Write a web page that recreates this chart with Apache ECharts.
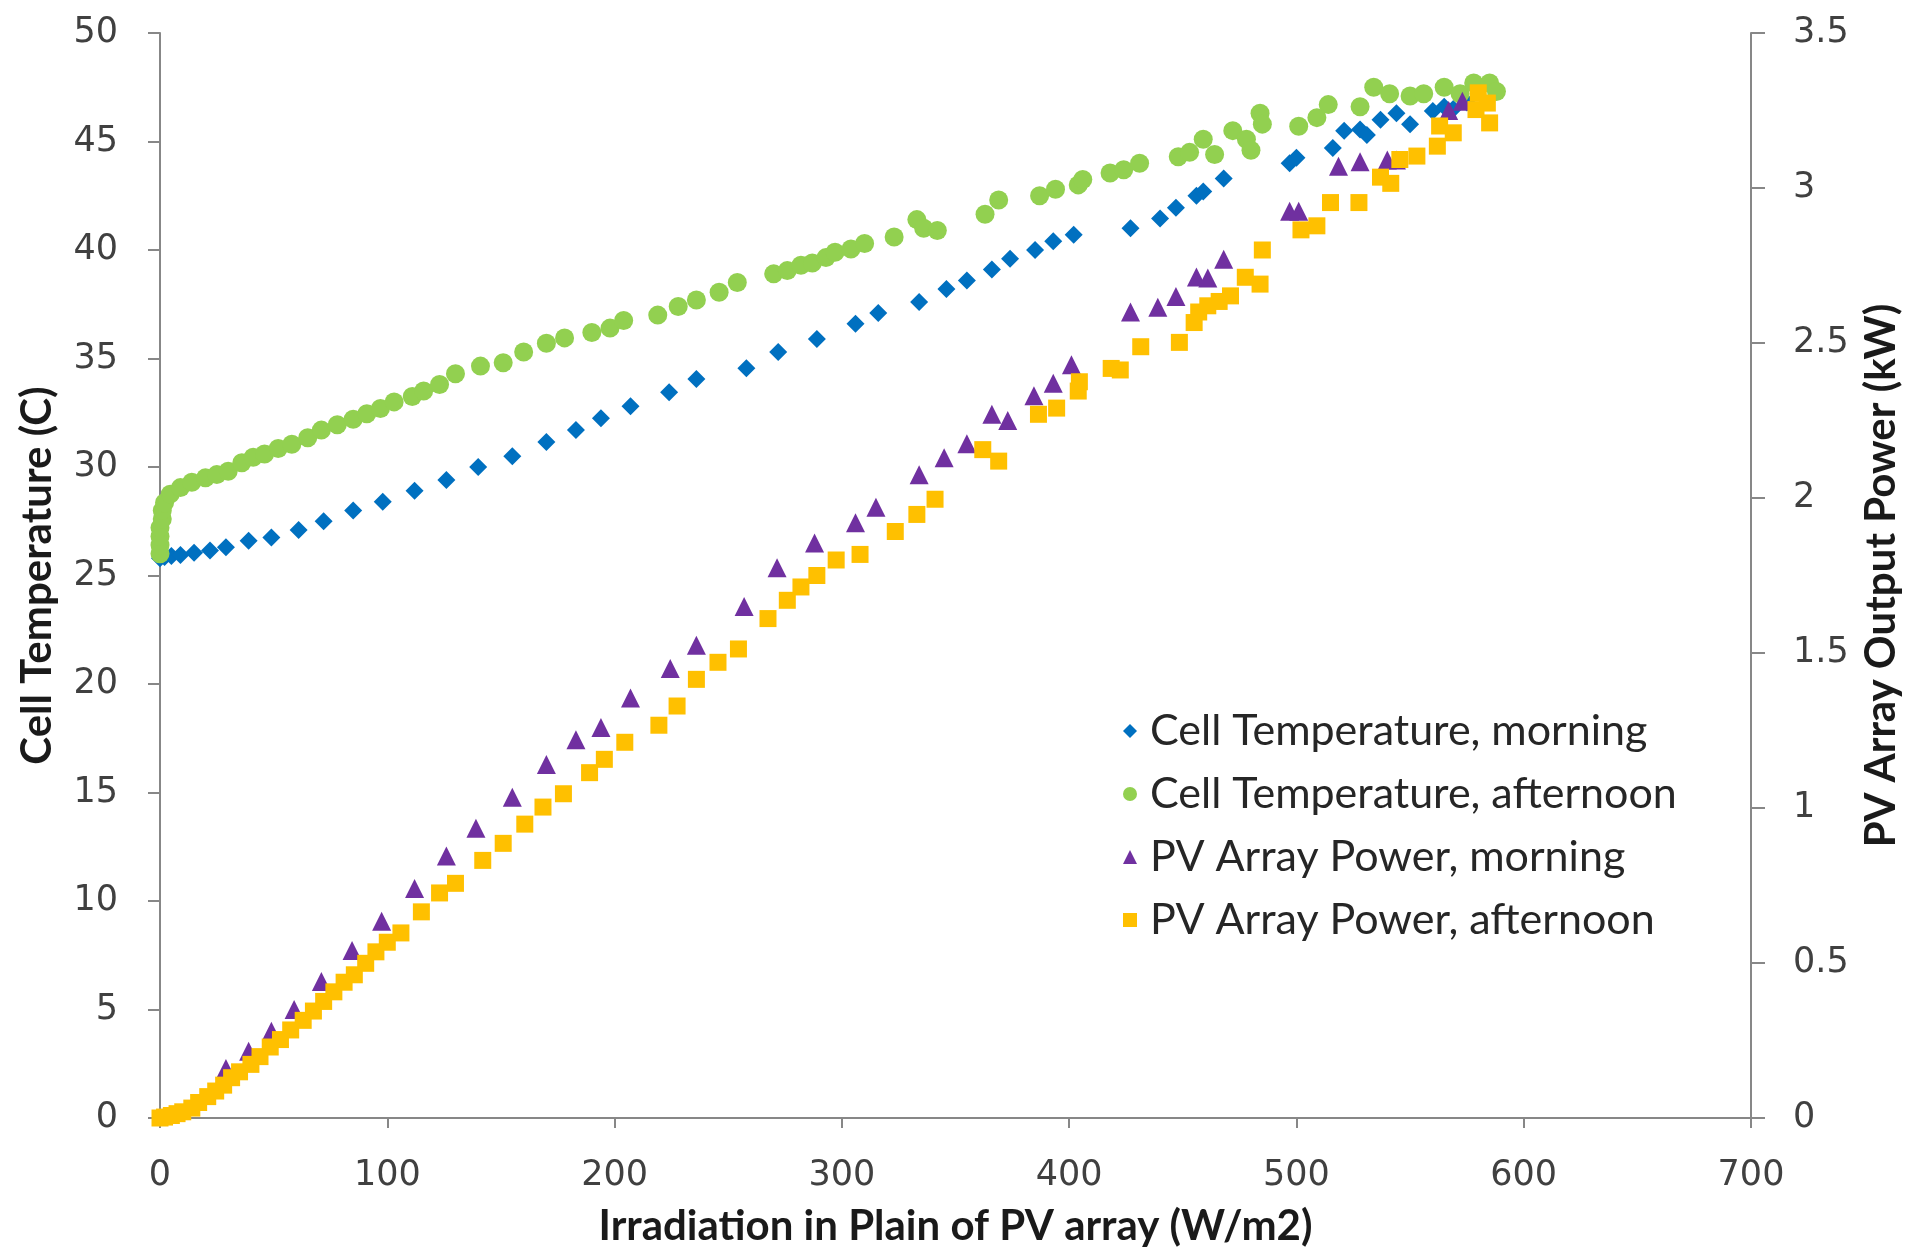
<!DOCTYPE html>
<html>
<head>
<meta charset="utf-8">
<title>Cell temperature and PV array power vs irradiation</title>
<script src="https://cdn.jsdelivr.net/npm/echarts@6/dist/echarts.min.js"></script>
<style>
  html, body { margin: 0; padding: 0; background: #ffffff; }
  #chart { width: 1910px; height: 1252px; }
</style>
</head>
<body>
<div id="chart"></div>
<script>
// [irradiation W/m2, cell temperature C]
var tempMorning = [
  [0, 25.8], [2, 25.85], [5, 25.9], [9, 25.95], [15, 26.05], [22, 26.15], [29, 26.3],
  [39, 26.6], [49, 26.75], [61, 27.1], [72, 27.5], [85, 28.0], [98, 28.4], [112, 28.9],
  [126, 29.4], [140, 30.0], [155, 30.5], [170, 31.15], [183, 31.7], [194, 32.25], [207, 32.8],
  [224, 33.45], [236, 34.05], [258, 34.55], [272, 35.3], [289, 35.9], [306, 36.6], [316, 37.1],
  [334, 37.6], [346, 38.2], [355, 38.6], [366, 39.1], [374, 39.6], [385, 40.0], [393, 40.4],
  [402, 40.7], [427, 41.0], [440, 41.45], [447, 41.95], [456, 42.5], [459, 42.7], [468, 43.3],
  [497, 44.0], [500, 44.25], [516, 44.7], [521, 45.5], [528, 45.55], [531, 45.3], [537, 46.0],
  [544, 46.3], [550, 45.8], [560, 46.4], [565, 46.6], [569, 46.5], [575, 46.8]
];
var tempAfternoon = [
  [0, 26.0], [0, 26.4], [0, 26.8], [0, 27.2], [1, 27.6], [1, 28.0], [2, 28.35], [4.5, 28.75],
  [9, 29.05], [14, 29.3], [20, 29.5], [25, 29.65], [30, 29.8], [36, 30.2], [41, 30.45],
  [46, 30.6], [52, 30.85], [58, 31.05], [65, 31.35], [71, 31.7], [78, 31.95], [85, 32.2],
  [91, 32.45], [97, 32.7], [103, 33.0], [111, 33.25], [116, 33.5], [123, 33.8], [130, 34.3],
  [141, 34.65], [151, 34.8], [160, 35.3], [170, 35.7], [178, 35.95], [190, 36.2], [198, 36.4],
  [204, 36.75], [219, 37.0], [228, 37.4], [236, 37.7], [246, 38.05], [254, 38.5], [270, 38.9],
  [276, 39.05], [282, 39.3], [287, 39.4], [293, 39.65], [297, 39.9], [304, 40.05], [310, 40.3],
  [323, 40.6], [333, 41.4], [336, 41.0], [342, 40.9], [363, 41.65], [369, 42.3], [387, 42.5],
  [394, 42.8], [404, 43.0], [406, 43.25], [418, 43.55], [424, 43.7], [431, 44.0], [448, 44.3],
  [453, 44.5], [459, 45.1], [464, 44.4], [472, 45.5], [478, 45.1], [480, 44.6], [484, 46.3],
  [485, 45.8], [501, 45.7], [509, 46.1], [514, 46.7], [528, 46.6], [534, 47.5], [541, 47.2],
  [550, 47.1], [556, 47.2], [565, 47.5], [572, 47.2], [578, 47.7], [585, 47.7], [588, 47.3]
];
// [irradiation W/m2, PV array output kW]
var powerMorning = [
  [29, 0.16], [39, 0.215], [49, 0.28], [59, 0.35], [71, 0.44], [84.5, 0.54], [97.5, 0.635],
  [112, 0.74], [126, 0.845], [139, 0.935], [155, 1.035], [170, 1.14], [183, 1.22], [194, 1.26],
  [207, 1.355], [224.5, 1.45], [236, 1.525], [257, 1.65], [271.5, 1.775], [288, 1.855],
  [306, 1.92], [315, 1.97], [334, 2.075], [345, 2.13], [355, 2.175], [366, 2.27], [373, 2.25],
  [384.5, 2.33], [393, 2.37], [401, 2.43], [427, 2.6], [439, 2.615], [447, 2.65], [456, 2.713],
  [461, 2.71], [468, 2.77], [497, 2.925], [501, 2.925], [518.5, 3.07], [528, 3.085],
  [540, 3.09], [544, 3.09], [567, 3.25], [573, 3.28]
];
var powerAfternoon = [
  [0, 0.0], [2, 0.003], [5, 0.008], [7.5, 0.014], [10, 0.02], [14, 0.032], [17, 0.05],
  [21, 0.069], [24.5, 0.087], [28, 0.106], [31.5, 0.13], [35, 0.149], [40, 0.173], [44, 0.198],
  [48.5, 0.229], [53, 0.253], [57.5, 0.284], [63, 0.315], [67.5, 0.345], [72, 0.376],
  [76.5, 0.407], [81, 0.438], [85.5, 0.462], [90.5, 0.499], [95, 0.536], [100, 0.567],
  [106, 0.597], [115, 0.665], [123, 0.726], [130, 0.757], [142, 0.831], [151, 0.886],
  [160.5, 0.948], [168.5, 1.003], [177.5, 1.046], [189, 1.114], [195.5, 1.157], [204.5, 1.212],
  [219.5, 1.267], [227.5, 1.329], [236, 1.415], [245.5, 1.47], [254.5, 1.513], [267.5, 1.611],
  [276, 1.67], [282, 1.713], [289, 1.75], [297.5, 1.8], [308, 1.818], [323.5, 1.892],
  [333, 1.947], [341, 1.996], [362, 2.156], [369, 2.119], [386.5, 2.27], [394.5, 2.29],
  [404, 2.345], [404.5, 2.375], [418.5, 2.418], [422.5, 2.413], [431.5, 2.488], [448.5, 2.502],
  [455, 2.566], [457, 2.6], [461, 2.62], [466, 2.634], [471, 2.652], [477.5, 2.712],
  [484, 2.69], [485, 2.8], [502, 2.865], [509, 2.878], [515, 2.953], [527.5, 2.953],
  [537, 3.035], [541.5, 3.015], [545.5, 3.092], [553, 3.103], [562, 3.135], [563, 3.2],
  [569, 3.178], [579, 3.253], [584, 3.274], [585, 3.21], [580, 3.307]
];

var seriesNames = [
  'Cell Temperature, morning',
  'Cell Temperature, afternoon',
  'PV Array Power, morning',
  'PV Array Power, afternoon'
];

var axisGray = '#878787';
var labelFont = 'DejaVu Sans';
var titleFont = 'Lato';

var chart = echarts.init(document.getElementById('chart'));

// shared look of the three axes
function axisStyle(tickLen) {
  return {
    axisLine: { show: true, onZero: false, lineStyle: { color: axisGray, width: 2 } },
    axisTick: { show: true, length: tickLen, lineStyle: { color: axisGray, width: 2 } },
    splitLine: { show: false },
    axisLabel: { fontFamily: labelFont, fontSize: 35, color: '#404040', margin: 42 },
    nameTextStyle: { fontFamily: titleFont, fontWeight: 'bold', fontSize: 42, color: '#1a1a1a' }
  };
}

var xAx = axisStyle(10);
xAx.type = 'value';
xAx.min = 0;
xAx.max = 700;
xAx.interval = 100;
xAx.name = 'Irradiation in Plain of PV array (W/m2)';
xAx.nameLocation = 'middle';
xAx.nameGap = 87;
xAx.axisLabel.margin = 40;

var yLeft = axisStyle(12);
yLeft.type = 'value';
yLeft.position = 'left';
yLeft.min = 0;
yLeft.max = 50;
yLeft.interval = 5;
yLeft.name = 'Cell Temperature (C)';
yLeft.nameLocation = 'middle';
yLeft.nameRotate = 90;
yLeft.nameGap = 102;

var yRight = axisStyle(14);
yRight.type = 'value';
yRight.position = 'right';
yRight.min = 0;
yRight.max = 3.5;
yRight.interval = 0.5;
yRight.name = 'PV Array Output Power (kW)';
yRight.nameLocation = 'middle';
yRight.nameRotate = 90;
yRight.nameGap = 109;

// scatter marks default to 0.8 opacity; Excel markers are solid
var solid = { opacity: 1 };

var option = {
  animation: false,
  backgroundColor: '#ffffff',
  color: ['#0070C0', '#92D050', '#7030A0', '#FFC000'],
  grid: { left: 160, right: 155, top: 33, bottom: 129 },
  legend: {
    orient: 'vertical',
    left: 1118,
    top: 702,
    itemWidth: 14,
    itemHeight: 14,
    itemGap: 15,
    data: seriesNames,
    textStyle: {
      fontFamily: titleFont, fontSize: 43, color: '#262626', lineHeight: 48,
      padding: [0, 0, 0, 8]
    }
  },
  xAxis: xAx,
  yAxis: [yLeft, yRight],
  series: [
    { name: seriesNames[0], type: 'scatter', yAxisIndex: 0, symbol: 'diamond', symbolSize: 18, itemStyle: solid, data: tempMorning },
    { name: seriesNames[1], type: 'scatter', yAxisIndex: 0, symbol: 'circle', symbolSize: 19, itemStyle: solid, data: tempAfternoon },
    { name: seriesNames[2], type: 'scatter', yAxisIndex: 1, symbol: 'triangle', symbolSize: 19, itemStyle: solid, data: powerMorning },
    { name: seriesNames[3], type: 'scatter', yAxisIndex: 1, symbol: 'rect', symbolSize: 17, itemStyle: solid, data: powerAfternoon }
  ]
};

chart.setOption(option);
</script>
</body>
</html>
